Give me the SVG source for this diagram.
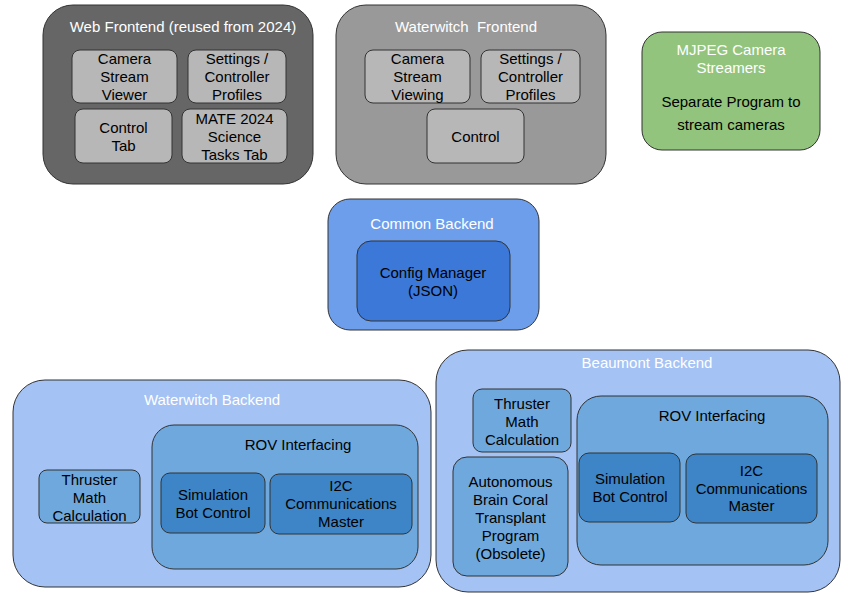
<svg xmlns="http://www.w3.org/2000/svg" width="853" height="597" viewBox="0 0 853 597">
<style>
text{font-family:"Liberation Sans",Arial,sans-serif;font-size:15px;text-anchor:middle;fill:#000}
.t{fill:#fff}
rect{stroke:#333;stroke-width:1}
.dg{fill:#666666}
.mg{fill:#999999}
.lg{fill:#b7b7b7}
.gr{fill:#93c47d}
.b1{fill:#6d9eeb}
.b2{fill:#3c78d8}
.b3{fill:#a4c2f4}
.b4{fill:#6fa8dc}
.b5{fill:#3d85c6}
</style>
<rect width="853" height="597" fill="#fff" style="stroke:none"/>
<g id="web-frontend">
<rect class="dg" x="43" y="5" width="270" height="179" rx="30"/>
<text class="t" x="183" y="32">Web Frontend (reused from 2024)</text>
</g>
<g id="web-camera">
<rect class="lg" x="72" y="50" width="105" height="53" rx="8"/>
<text x="124.5" y="64">Camera</text><text x="124.5" y="82">Stream</text><text x="124.5" y="100">Viewer</text>
</g>
<g id="web-settings">
<rect class="lg" x="188" y="50" width="98" height="53" rx="8"/>
<text x="237" y="64">Settings /</text><text x="237" y="82">Controller</text><text x="237" y="100">Profiles</text>
</g>
<g id="web-control">
<rect class="lg" x="75" y="109" width="97" height="54" rx="8"/>
<text x="123.5" y="133">Control</text><text x="123.5" y="151">Tab</text>
</g>
<g id="web-mate">
<rect class="lg" x="182" y="109" width="105" height="54" rx="8"/>
<text x="234.5" y="124">MATE 2024</text><text x="234.5" y="142">Science</text><text x="234.5" y="160">Tasks Tab</text>
</g>
<g id="ww-frontend">
<rect class="mg" x="336" y="5" width="270" height="179" rx="30"/>
<text class="t" x="466" y="32" xml:space="preserve">Waterwitch  Frontend</text>
</g>
<g id="ww-camera">
<rect class="lg" x="365" y="50" width="105" height="53" rx="8"/>
<text x="417.5" y="64">Camera</text><text x="417.5" y="82">Stream</text><text x="417.5" y="100">Viewing</text>
</g>
<g id="ww-settings">
<rect class="lg" x="481" y="50" width="99" height="53" rx="8"/>
<text x="530.5" y="64">Settings /</text><text x="530.5" y="82">Controller</text><text x="530.5" y="100">Profiles</text>
</g>
<g id="ww-control">
<rect class="lg" x="427" y="109" width="97" height="54" rx="8"/>
<text x="475.5" y="142">Control</text>
</g>
<g id="mjpeg">
<rect class="gr" x="642" y="32" width="178" height="118" rx="20"/>
<text class="t" x="731" y="55">MJPEG Camera</text><text class="t" x="731" y="73">Streamers</text>
<text x="731" y="107">Separate Program to</text><text x="731" y="130">stream cameras</text>
</g>
<g id="common-backend">
<rect class="b1" x="328" y="199" width="211" height="131" rx="22"/>
<text class="t" x="432" y="229">Common Backend</text>
</g>
<g id="config-manager">
<rect class="b2" x="357" y="241" width="153" height="80" rx="14"/>
<text x="433" y="278">Config Manager</text><text x="433" y="296">(JSON)</text>
</g>
<g id="ww-backend">
<rect class="b3" x="13" y="380" width="418" height="207" rx="32"/>
<text class="t" x="212" y="405">Waterwitch Backend</text>
</g>
<g id="ww-thruster">
<rect class="b4" x="39" y="470" width="101" height="53" rx="8"/>
<text x="89.5" y="485">Thruster</text><text x="89.5" y="503">Math</text><text x="89.5" y="521">Calculation</text>
</g>
<g id="ww-rov">
<rect class="b4" x="152" y="425" width="266" height="144" rx="22"/>
<text x="298" y="450">ROV Interfacing</text>
</g>
<g id="ww-sim">
<rect class="b5" x="161" y="473" width="104" height="60" rx="9"/>
<text x="213" y="500">Simulation</text><text x="213" y="518">Bot Control</text>
</g>
<g id="ww-i2c">
<rect class="b5" x="270" y="474" width="142" height="60" rx="9"/>
<text x="341" y="491">I2C</text><text x="341" y="509">Communications</text><text x="341" y="527">Master</text>
</g>
<g id="bm-backend">
<rect class="b3" x="436" y="350" width="404" height="242" rx="32"/>
<text class="t" x="647" y="368">Beaumont Backend</text>
</g>
<g id="bm-thruster">
<rect class="b4" x="473" y="389" width="98" height="63" rx="9"/>
<text x="522" y="409">Thruster</text><text x="522" y="427">Math</text><text x="522" y="445">Calculation</text>
</g>
<g id="bm-coral">
<rect class="b4" x="453" y="457" width="115" height="119" rx="14"/>
<text x="510.5" y="487">Autonomous</text><text x="510.5" y="505">Brain Coral</text><text x="510.5" y="523">Transplant</text><text x="510.5" y="541">Program</text><text x="510.5" y="559">(Obsolete)</text>
</g>
<g id="bm-rov">
<rect class="b4" x="577" y="396" width="251" height="169" rx="24"/>
<text x="712" y="421">ROV Interfacing</text>
</g>
<g id="bm-sim">
<rect class="b5" x="579" y="453" width="101" height="69" rx="10"/>
<text x="630" y="484">Simulation</text><text x="630" y="502">Bot Control</text>
</g>
<g id="bm-i2c">
<rect class="b5" x="686" y="454" width="131" height="69" rx="10"/>
<text x="751.5" y="476">I2C</text><text x="751.5" y="494">Communications</text><text x="751.5" y="511">Master</text>
</g>
<g id="connectors"></g>
</svg>
